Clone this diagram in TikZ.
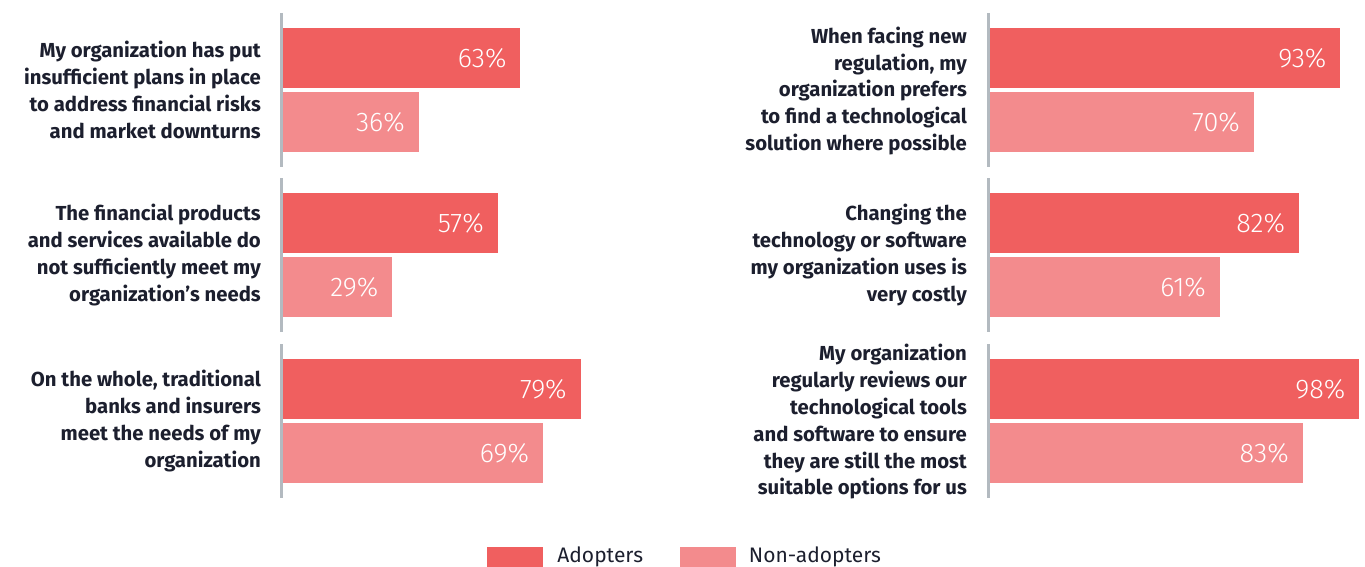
\documentclass[tikz,border=0pt]{standalone}
\usepackage{fontspec}
\setmainfont{Fira Sans}
\newfontfamily\lightfont{Fira Sans}[UprightFont={* Light}]
\usetikzlibrary{positioning}
\definecolor{adopt}{HTML}{F05F5F}
\definecolor{nonadopt}{HTML}{F38B8D}
\definecolor{axisgray}{HTML}{B3BAC0}
\definecolor{labelink}{HTML}{1C1F2E}

\begin{document}
\begin{tikzpicture}[x=1pt, y=-1pt]
\tikzstyle{question}=[font=\bfseries\fontsize{20.3}{26.8}\selectfont, align=right, text=labelink, anchor=east, inner sep=0pt]
\tikzstyle{bar}=[anchor=north west, inner sep=0pt, minimum height=60pt]
\tikzstyle{pct}=[font=\lightfont\fontsize{27}{27}\selectfont, text=white, anchor=east, inner sep=0pt]
\tikzstyle{axisline}=[draw=axisgray, line width=3pt]
\tikzstyle{legbox}=[inner sep=0pt, minimum width=56pt, minimum height=20pt]
\tikzstyle{legtext}=[inner sep=0pt, text=labelink, font=\fontsize{21}{21}\selectfont]
\useasboundingbox (0,0) rectangle (1365,567);

% bar groups: axis x / group centre / adopters / non-adopters / name
\foreach \ax/\yc/\a/\n/\nm in {281.5/90/63/36/risk, 281.5/255/57/29/prod, 281.5/421/79/69/bank,
                              988.5/90/93/70/regul, 988.5/255/82/61/cost, 988.5/421/98/83/review}{
  \draw[axisline] (\ax,\yc-77) -- (\ax,\yc+77);
  \node[bar, fill=adopt, minimum width=3.765*\a] (a-\nm) at (\ax+1.5,\yc-62) {};
  \node[bar, fill=nonadopt, minimum width=3.765*\n] (n-\nm) at (\ax+1.5,\yc+2) {};
  \node[pct] (pa-\nm) at ([xshift=-14pt]a-\nm.east) {\a\%};
  \node[pct] (pn-\nm) at ([xshift=-14pt]n-\nm.east) {\n\%};
}

% questions
\node[question] (q-risk) at (261,90) {My organization has put\\insufficient plans in place\\to address financial risks\\and market downturns};
\node[question] (q-prod) at (261,255) {The financial products\\and services available do\\not sufficiently meet my\\organization’s needs};
\node[question] (q-bank) at (261,421) {On the whole, traditional\\banks and insurers\\meet the needs of my\\organization};
\node[question] (q-regul) at (967,91) {When facing new\\regulation, my\\organization prefers\\to find a technological\\solution where possible};
\node[question] (q-cost) at (967,255) {Changing the\\technology or software\\my organization uses is\\very costly};
\node[question] (q-review) at (967,422) {My organization\\regularly reviews our\\technological tools\\and software to ensure\\they are still the most\\suitable options for us};

% legend
\node[legbox, fill=adopt] (leg-a) at (515,557) {};
\node[legtext, right=14pt of leg-a] (leg-at) {Adopters};
\node[legbox, fill=nonadopt] (leg-n) at (707.5,557) {};
\node[legtext, right=13pt of leg-n] (leg-nt) {Non-adopters};
\end{tikzpicture}
\end{document}
